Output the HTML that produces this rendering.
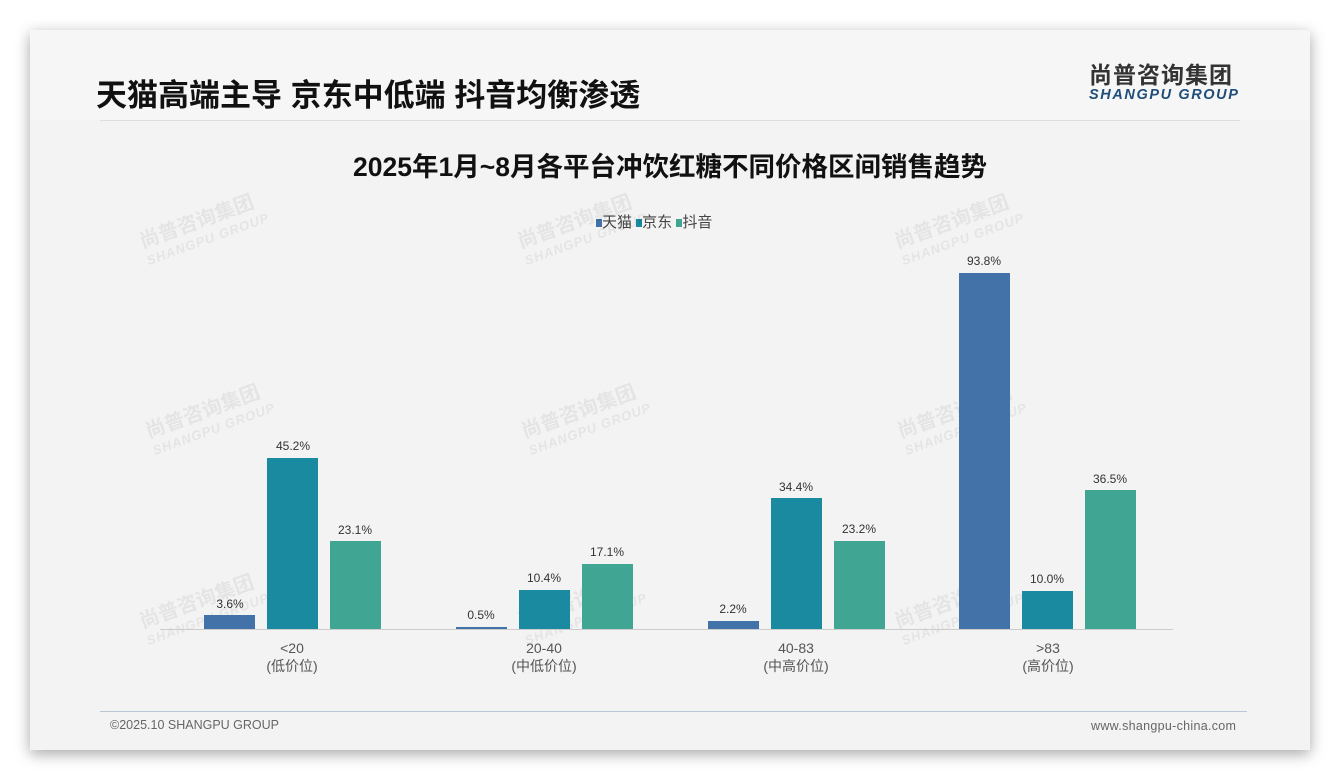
<!DOCTYPE html>
<html><head><meta charset="utf-8"><style>
body{margin:0;width:1340px;height:780px;background:#fff;position:relative;overflow:hidden;font-family:"Liberation Sans","Noto Sans CJK SC",sans-serif}
.card{position:absolute;left:30px;top:30px;width:1280px;height:720px;background:#f3f3f3;box-shadow:0 4px 14px rgba(0,0,0,.35)}
.hdr{position:absolute;left:0;top:0;width:1280px;height:90px;background:#f6f6f6}
.t{position:absolute;white-space:nowrap;line-height:1}
.bar{position:absolute;width:51px}
.c1{background:#4272a8}.c2{background:#1a8aa0}.c3{background:#41a593}
.v{position:absolute;width:80px;text-align:center;font-size:12px;color:#333}
.x{position:absolute;width:140px;text-align:center;font-size:14px;color:#555;line-height:18px}
.wm{position:absolute;color:rgba(0,0,0,.06);font-weight:bold;transform:rotate(-20deg);font-size:20px;line-height:20px}
.wm small{display:block;font-size:13px;font-style:italic;letter-spacing:1px}
</style></head><body>
<div class="card"><div class="hdr"></div></div>
<div class="t" style="left:96px;top:80px;font-size:31px;font-weight:bold;color:#111">天猫高端主导 京东中低端 抖音均衡渗透</div>
<div class="t" style="left:1089px;top:64px;font-size:23px;font-weight:bold;color:#333;letter-spacing:1px">尚普咨询集团</div>
<div class="t" style="left:1089px;top:88px;font-size:14.5px;font-weight:bold;font-style:italic;color:#1f4e79;letter-spacing:1.6px">SHANGPU GROUP</div>
<div style="position:absolute;left:100px;top:120px;width:1140px;height:1px;background:#ddd"></div>
<div class="t" style="left:0;width:1340px;text-align:center;top:154px;font-size:26.5px;font-weight:bold;color:#111">2025年1月~8月各平台冲饮红糖不同价格区间销售趋势</div>
<div class="t" style="left:596px;top:215px;font-size:15px;color:#444"><span style="display:inline-block;width:6px;height:8px;background:#4272a8"></span>天猫 <span style="display:inline-block;width:6px;height:8px;background:#1a8aa0"></span>京东 <span style="display:inline-block;width:6px;height:8px;background:#41a593"></span>抖音</div>
<div class="wm" style="left:140px;top:210px">尚普咨询集团<small>SHANGPU GROUP</small></div>
<div class="wm" style="left:518px;top:210px">尚普咨询集团<small>SHANGPU GROUP</small></div>
<div class="wm" style="left:895px;top:210px">尚普咨询集团<small>SHANGPU GROUP</small></div>
<div class="wm" style="left:146px;top:400px">尚普咨询集团<small>SHANGPU GROUP</small></div>
<div class="wm" style="left:522px;top:400px">尚普咨询集团<small>SHANGPU GROUP</small></div>
<div class="wm" style="left:898px;top:400px">尚普咨询集团<small>SHANGPU GROUP</small></div>
<div class="wm" style="left:140px;top:590px">尚普咨询集团<small>SHANGPU GROUP</small></div>
<div class="wm" style="left:518px;top:590px">尚普咨询集团<small>SHANGPU GROUP</small></div>
<div class="wm" style="left:895px;top:590px">尚普咨询集团<small>SHANGPU GROUP</small></div>
<div style="position:absolute;left:160px;top:629px;width:1013px;height:1px;background:#ccc"></div>

<div class="bar c1" style="left:204px;top:615px;height:14px"></div><div class="v" style="left:190px;top:597px">3.6%</div>
<div class="bar c2" style="left:267px;top:458px;height:171px"></div><div class="v" style="left:253px;top:439px">45.2%</div>
<div class="bar c3" style="left:330px;top:541px;height:88px"></div><div class="v" style="left:315px;top:523px">23.1%</div>

<div class="bar c1" style="left:456px;top:627px;height:2px"></div><div class="v" style="left:441px;top:608px">0.5%</div>
<div class="bar c2" style="left:519px;top:590px;height:39px"></div><div class="v" style="left:504px;top:571px">10.4%</div>
<div class="bar c3" style="left:582px;top:564px;height:65px"></div><div class="v" style="left:567px;top:545px">17.1%</div>

<div class="bar c1" style="left:708px;top:621px;height:8px"></div><div class="v" style="left:693px;top:602px">2.2%</div>
<div class="bar c2" style="left:771px;top:498px;height:131px"></div><div class="v" style="left:756px;top:480px">34.4%</div>
<div class="bar c3" style="left:834px;top:541px;height:88px"></div><div class="v" style="left:819px;top:522px">23.2%</div>

<div class="bar c1" style="left:959px;top:273px;height:356px"></div><div class="v" style="left:944px;top:254px">93.8%</div>
<div class="bar c2" style="left:1022px;top:591px;height:38px"></div><div class="v" style="left:1007px;top:572px">10.0%</div>
<div class="bar c3" style="left:1085px;top:490px;height:139px"></div><div class="v" style="left:1070px;top:472px">36.5%</div>

<div class="x" style="left:222px;top:639px">&lt;20<br>(低价位)</div>
<div class="x" style="left:474px;top:639px">20-40<br>(中低价位)</div>
<div class="x" style="left:726px;top:639px">40-83<br>(中高价位)</div>
<div class="x" style="left:978px;top:639px">&gt;83<br>(高价位)</div>

<div style="position:absolute;left:100px;top:711px;width:1147px;height:1px;background:#b8c8d8"></div>
<div class="t" style="left:110px;top:719px;font-size:12.5px;color:#666">©2025.10 SHANGPU GROUP</div>
<div class="t" style="left:1091px;top:720px;font-size:12.5px;color:#666;letter-spacing:.3px">www.shangpu-china.com</div>
</body></html>
